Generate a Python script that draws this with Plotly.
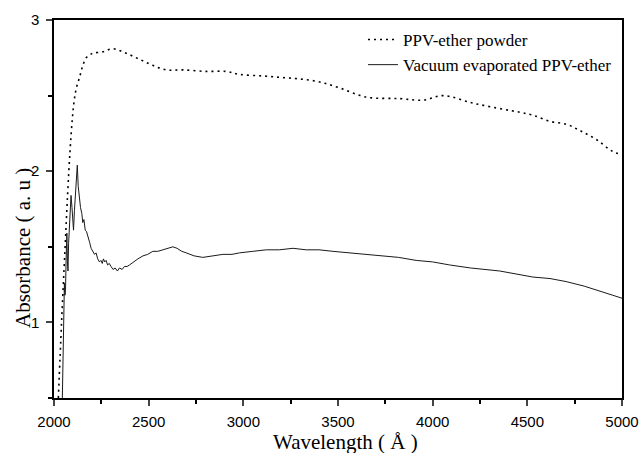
import plotly.graph_objects as go

# PPV-ether powder (dotted)
powder_wl = [2023, 2040, 2058, 2072, 2085, 2097, 2108, 2120, 2135, 2150, 2170, 2190, 2205,
             2258, 2311, 2381, 2452, 2522, 2593, 2681, 2804, 2910, 2980, 3100, 3200, 3298,
             3404, 3510, 3650, 3826, 3950, 4055, 4213, 4372, 4460, 4530, 4618, 4706, 4776,
             4864, 4952, 5000]
powder_abs = [0.50, 1.00, 1.48, 1.85, 2.14, 2.35, 2.48, 2.56, 2.62, 2.69, 2.75, 2.77, 2.78,
              2.79, 2.81, 2.78, 2.74, 2.70, 2.67, 2.67, 2.66, 2.66, 2.64, 2.63, 2.62, 2.61,
              2.59, 2.55, 2.49, 2.48, 2.47, 2.50, 2.45, 2.41, 2.39, 2.37, 2.33, 2.31, 2.27,
              2.21, 2.13, 2.11]

# Vacuum evaporated PPV-ether (solid)
film_wl = [2044, 2050, 2055, 2058, 2061, 2064, 2068, 2071, 2074, 2077, 2080, 2084, 2090,
           2095, 2099, 2103, 2108, 2114, 2118, 2123, 2128, 2135, 2140, 2147, 2152, 2158,
           2165, 2172, 2179, 2188, 2196, 2205, 2214, 2222, 2231, 2240, 2248, 2255, 2261,
           2268, 2275, 2283, 2292, 2301, 2312, 2323, 2335, 2346, 2360, 2372, 2386, 2399,
           2420, 2443, 2470, 2495, 2522, 2548, 2575, 2600, 2628, 2650, 2675, 2698, 2740,
           2786, 2840, 2892, 2940, 2980, 3050, 3121, 3190, 3262, 3332, 3400, 3473, 3560,
           3650, 3738, 3820, 3913, 4000, 4089, 4200, 4354, 4440, 4529, 4620, 4705, 4800,
           4881, 4950, 5000]
film_abs = [0.50, 0.82, 1.26, 1.18, 1.22, 1.42, 1.59, 1.40, 1.34, 1.52, 1.60, 1.70, 1.84,
            1.76, 1.66, 1.61, 1.74, 1.85, 1.90, 2.04, 1.90, 1.81, 1.76, 1.72, 1.66, 1.68,
            1.61, 1.60, 1.56, 1.53, 1.49, 1.47, 1.45, 1.46, 1.42, 1.40, 1.41, 1.39, 1.42,
            1.40, 1.41, 1.38, 1.39, 1.37, 1.35, 1.36, 1.34, 1.36, 1.35, 1.37, 1.37, 1.38,
            1.40, 1.42, 1.44, 1.45, 1.47, 1.47, 1.48, 1.49, 1.50, 1.49, 1.47, 1.46, 1.44,
            1.43, 1.44, 1.45, 1.45, 1.46, 1.47, 1.48, 1.48, 1.49, 1.48, 1.48, 1.47, 1.46,
            1.45, 1.44, 1.43, 1.41, 1.40, 1.38, 1.36, 1.34, 1.32, 1.30, 1.29, 1.27, 1.24,
            1.21, 1.18, 1.16]

x_tickvals = [2000, 2500, 3000, 3500, 4000, 4500, 5000]
y_tickvals = [1, 2, 3]

L, R, T, B = 54, 18, 20, 55
W, H = 640, 453
pw, ph = W - L - R, H - T - B


def px_x(p):
    return (p - L) / pw


def px_y(p):
    return (H - B - p) / ph


fig = go.Figure()
fig.add_trace(go.Scatter(x=powder_wl, y=powder_abs, mode="lines", name="PPV-ether powder",
                         legendgroup="a",
                         line=dict(color="black", width=1.6, dash="2px,4px", shape="spline")))
fig.add_trace(go.Scatter(x=film_wl, y=film_abs, mode="lines", name="Vacuum evaporated PPV-ether",
                         legendgroup="b",
                         line=dict(color="#1a1a1a", width=1)))

fig.update_layout(
    width=W, height=H,
    margin=dict(l=L, r=R, t=T, b=B),
    paper_bgcolor="white", plot_bgcolor="white",
    showlegend=True,
    legend=dict(x=px_x(363), xanchor="left", y=px_y(22), yanchor="top",
                bgcolor="rgba(0,0,0,0)",
                font=dict(family="Liberation Serif", size=17, color="black"),
                itemwidth=30, tracegroupgap=0, traceorder="grouped"),
    xaxis=dict(range=[2000, 5000], tickvals=x_tickvals, ticks="outside", ticklen=6,
               tickwidth=1.5, showline=True, linecolor="black", linewidth=1.5, mirror=True,
               showgrid=False, zeroline=False, automargin=False, ticklabelstandoff=3,
               minor=dict(dtick=250, ticks="outside", ticklen=4, tickcolor="black"),
               tickfont=dict(family="Liberation Sans", size=15, color="black")),
    yaxis=dict(range=[0.5, 3], tickvals=y_tickvals, ticks="outside", ticklen=6,
               tickwidth=1.5, showline=True, linecolor="black", linewidth=1.5, mirror=True,
               showgrid=False, zeroline=False, automargin=False, ticklabelstandoff=4,
               minor=dict(dtick=0.5, ticks="outside", ticklen=4, tickcolor="black"),
               tickfont=dict(family="Liberation Sans", size=15, color="black")),
    annotations=[
        dict(text="Wavelength ( Å )", xref="paper", yref="paper", x=px_x(345), y=px_y(442),
             xanchor="center", yanchor="middle", showarrow=False,
             font=dict(family="Liberation Serif", size=21, color="black")),
        dict(text="Absorbance ( a. u )", xref="paper", yref="paper", x=px_x(23), y=px_y(248),
             xanchor="center", yanchor="middle", showarrow=False, textangle=-90,
             font=dict(family="Liberation Serif", size=21, color="black")),
    ],
)

fig.write_html("out.html")
